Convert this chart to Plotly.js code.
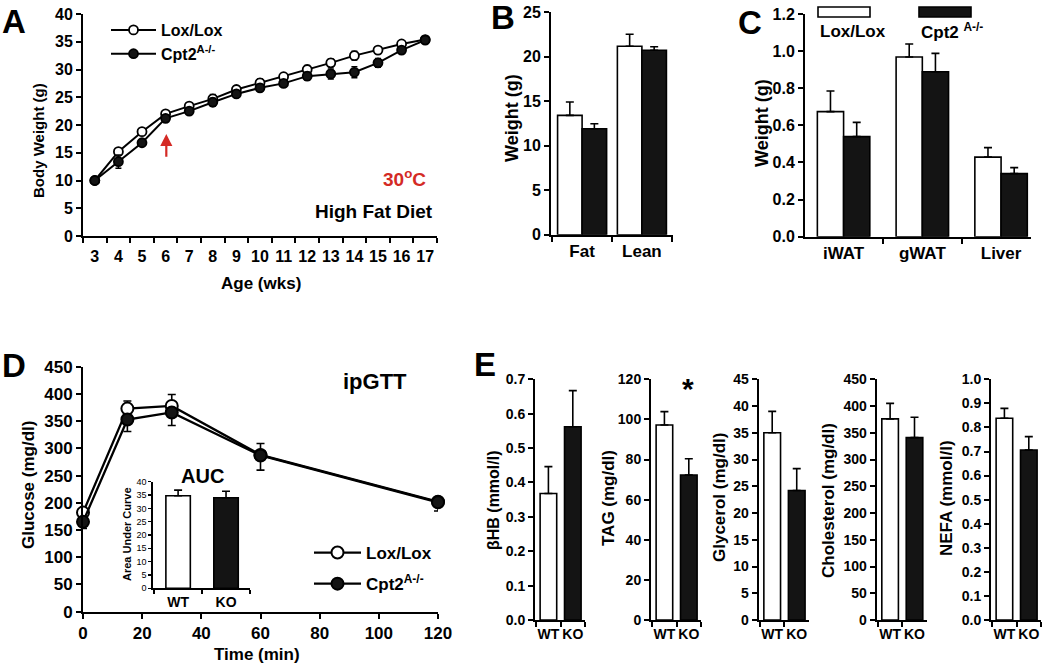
<!DOCTYPE html>
<html>
<head>
<meta charset="utf-8">
<script src="https://cdn.plot.ly/plotly-3.0.1.min.js"></script>
<style>html,body{margin:0;padding:0;background:#fff;}#chart{width:1050px;height:666px;}</style>
</head>
<body>
<div id="chart"></div>
<script>
// ---------- DATA ----------
// Panel A: body weight on high fat diet (30 C)
const ageWeeks = [3,4,5,6,7,8,9,10,11,12,13,14,15,16,17];
const loxWeight = [10.0,15.2,18.8,22.0,23.4,24.7,26.4,27.6,28.7,30.0,31.2,32.5,33.5,34.6,35.4];
const loxWeightErr = [0.3,0.5,0.5,0.4,0.5,0.8,0.6,0.7,0.6,0.7,0.7,0.8,0.6,0.5,0.5];
const koWeight = [10.0,13.4,16.8,21.2,22.5,24.1,25.6,26.7,27.5,28.8,29.2,29.5,31.2,33.5,35.3];
const koWeightErr = [0.3,1.2,0.6,0.5,0.5,0.7,0.6,0.6,0.6,0.7,0.9,1.0,0.8,0.5,0.4];

// Panel B: body composition
const bodyCompCats = ['Fat','Lean'];
const loxBodyComp = [13.4,21.15];
const loxBodyCompErr = [1.5,1.35];
const koBodyComp = [11.9,20.7];
const koBodyCompErr = [0.55,0.4];

// Panel C: tissue weights
const tissueCats = ['iWAT','gWAT','Liver'];
const loxTissue = [0.674,0.968,0.429];
const loxTissueErr = [0.111,0.07,0.051];
const koTissue = [0.539,0.889,0.34];
const koTissueErr = [0.077,0.099,0.032];

// Panel D: ipGTT
const gttTime = [0,15,30,60,120];
const loxGlucose = [182,373,378,288,202];
const loxGlucoseErr = [6,14,21,21,9];
const koGlucose = [165,353,366,287,201];
const koGlucoseErr = [12,22,24,27,16];
// Inset: AUC
const aucCats = ['WT','KO'];
const aucValues = [34.75,34.0];
const aucErr = [2.1,2.4];

// Panel E: serum metabolites (WT, KO)
const genotypeCats = ['WT','KO'];
const bhbValues = [0.368,0.562];
const bhbErr = [0.078,0.105];
const tagValues = [97.2,72.3];
const tagErr = [6.7,8.1];
const glycerolValues = [35.0,24.2];
const glycerolErr = [4.0,4.1];
const cholesterolValues = [376,341];
const cholesterolErr = [29,38];
const nefaValues = [0.838,0.706];
const nefaErr = [0.041,0.056];

// ---------- HELPERS ----------
const W = 1050, H = 666;
const px = x => x / W;
const py = y => 1 - y / H;
const F = 'Liberation Sans, Arial, Helvetica, sans-serif';
const BLACK = '#141414';
const RED = '#d42a25';
const font = (size, extra) => Object.assign({family: F, size: size, color: 'black', weight: 'bold'}, extra || {});

const axBase = (o) => Object.assign({
  showline: true, linecolor: 'black', linewidth: 2,
  ticks: 'outside', ticklen: 5, tickwidth: 2, tickcolor: 'black',
  showgrid: false, zeroline: false, fixedrange: true,
  tickfont: font(16)
}, o);

const errUp = (arr, w) => ({type: 'data', symmetric: false, array: arr, arrayminus: arr.map(() => 0), color: 'black', thickness: 1.6, width: w || 4});

// ---------- TRACES ----------
const traces = [];

// A
traces.push({
  type: 'scatter', mode: 'lines+markers', x: ageWeeks, y: loxWeight, name: 'Lox/Lox',
  xaxis: 'x', yaxis: 'y', legend: 'legend', cliponaxis: false,
  line: {color: 'black', width: 2},
  marker: {symbol: 'circle', size: 9, color: 'white', line: {color: 'black', width: 1.8}},
  error_y: {type: 'data', array: loxWeightErr, color: 'black', thickness: 1.5, width: 3}
});
traces.push({
  type: 'scatter', mode: 'lines+markers', x: ageWeeks, y: koWeight, name: 'Cpt2<sup>A-/-</sup>',
  xaxis: 'x', yaxis: 'y', legend: 'legend', cliponaxis: false,
  line: {color: 'black', width: 2},
  marker: {symbol: 'circle', size: 9, color: BLACK, line: {color: 'black', width: 1.8}},
  error_y: {type: 'data', array: koWeightErr, color: 'black', thickness: 1.5, width: 3}
});

// B
traces.push({type: 'bar', x: bodyCompCats, y: loxBodyComp, xaxis: 'x2', yaxis: 'y2', showlegend: false,
  width: 0.41, offset: -0.41, marker: {color: 'white', line: {color: 'black', width: 1.6}}, error_y: errUp(loxBodyCompErr)});
traces.push({type: 'bar', x: bodyCompCats, y: koBodyComp, xaxis: 'x2', yaxis: 'y2', showlegend: false,
  width: 0.41, offset: 0, marker: {color: BLACK, line: {color: 'black', width: 1.6}}, error_y: errUp(koBodyCompErr)});

// C
traces.push({type: 'bar', x: tissueCats, y: loxTissue, xaxis: 'x3', yaxis: 'y3', showlegend: false,
  width: 0.333, offset: -0.333, marker: {color: 'white', line: {color: 'black', width: 1.6}}, error_y: errUp(loxTissueErr)});
traces.push({type: 'bar', x: tissueCats, y: koTissue, xaxis: 'x3', yaxis: 'y3', showlegend: false,
  width: 0.333, offset: 0, marker: {color: BLACK, line: {color: 'black', width: 1.6}}, error_y: errUp(koTissueErr)});

// D
traces.push({
  type: 'scatter', mode: 'lines+markers', x: gttTime, y: loxGlucose, name: 'Lox/Lox',
  xaxis: 'x4', yaxis: 'y4', legend: 'legend2', legendgroup: 'g1', cliponaxis: false,
  line: {color: 'black', width: 2.3},
  marker: {symbol: 'circle', size: 12, color: 'white', line: {color: 'black', width: 2}},
  error_y: errUp(loxGlucoseErr, 4)
});
traces.push({
  type: 'scatter', mode: 'lines+markers', x: gttTime, y: koGlucose, name: 'Cpt2<sup>A-/-</sup>',
  xaxis: 'x4', yaxis: 'y4', legend: 'legend2', legendgroup: 'g2', cliponaxis: false,
  line: {color: 'black', width: 2.3},
  marker: {symbol: 'circle', size: 12, color: BLACK, line: {color: 'black', width: 2}},
  error_y: {type: 'data', symmetric: false, array: koGlucoseErr.map(() => 0), arrayminus: koGlucoseErr, color: 'black', thickness: 1.6, width: 4}
});
// Inset AUC
traces.push({type: 'bar', x: aucCats, y: aucValues, xaxis: 'x5', yaxis: 'y5', showlegend: false,
  width: 0.51, marker: {color: ['white', BLACK], line: {color: 'black', width: 1.6}}, error_y: errUp(aucErr, 4)});

// E
const eSets = [
  [bhbValues, bhbErr], [tagValues, tagErr], [glycerolValues, glycerolErr],
  [cholesterolValues, cholesterolErr], [nefaValues, nefaErr]
];
eSets.forEach((s, i) => {
  traces.push({type: 'bar', x: genotypeCats, y: s[0], xaxis: 'x' + (6 + i), yaxis: 'y' + (6 + i), showlegend: false,
    width: 0.68, marker: {color: ['white', BLACK], line: {color: 'black', width: 1.6}}, error_y: errUp(s[1], 4)});
});

// ---------- LAYOUT ----------
const layout = {
  width: W, height: H,
  margin: {l: 0, r: 0, t: 0, b: 0},
  paper_bgcolor: 'white', plot_bgcolor: 'rgba(0,0,0,0)',
  font: font(16),
  barmode: 'overlay',
  showlegend: true,
  legend: {x: px(106), y: py(13), xanchor: 'left', yanchor: 'top', bgcolor: 'rgba(0,0,0,0)',
    font: font(16), traceorder: 'normal', itemwidth: 45, tracegroupgap: 0},
  legend2: {x: px(309), y: py(535), xanchor: 'left', yanchor: 'top', bgcolor: 'rgba(0,0,0,0)',
    font: font(17), traceorder: 'grouped', itemwidth: 47, tracegroupgap: 6},

  // A
  xaxis: axBase({domain: [px(83), px(437)], anchor: 'y', range: [2.5, 17.5], tickvals: ageWeeks, tickangle: 0,
    tickcolor: 'rgba(0,0,0,0)',
    minor: {ticks: 'outside', tick0: 2.5, dtick: 1, ticklen: 5, tickwidth: 2, tickcolor: 'black'}}),
  yaxis: axBase({domain: [py(236), py(14)], anchor: 'x', range: [0, 40], dtick: 5}),

  // B
  xaxis2: axBase({domain: [px(551), px(673)], anchor: 'y2', type: 'category', range: [-0.52, 1.52], tickson: 'boundaries', tickangle: 0, tickfont: font(17)}),
  yaxis2: axBase({domain: [py(234.7), py(12)], anchor: 'x2', range: [0, 25], dtick: 5}),

  // C
  xaxis3: axBase({domain: [px(805), px(1031)], anchor: 'y3', type: 'category', range: [-0.49, 2.38], tickson: 'boundaries', tickangle: 0, tickfont: font(17)}),
  yaxis3: axBase({domain: [py(236.7), py(14)], anchor: 'x3', range: [0, 1.2], dtick: 0.2, tickformat: '.1f'}),

  // D
  xaxis4: axBase({domain: [px(83), px(438)], anchor: 'y4', range: [0, 120], dtick: 20, tickangle: 0, tickfont: font(17)}),
  yaxis4: axBase({domain: [py(611.7), py(366.7)], anchor: 'x4', range: [0, 450], dtick: 50, tickfont: font(17)}),
  // inset
  xaxis5: axBase({domain: [px(152.7), px(250)], anchor: 'y5', type: 'category', range: [-0.53, 1.5], tickson: 'boundaries', tickangle: 0,
    linewidth: 1.5, tickwidth: 1.5, ticklen: 4, tickfont: font(14)}),
  yaxis5: axBase({domain: [py(588.3), py(481.7)], anchor: 'x5', range: [0, 40], dtick: 5,
    linewidth: 1.5, tickwidth: 1.2, ticklen: 3, tickfont: font(9, {weight: 'normal'})}),

  annotations: [], shapes: []
};

const eDomains = [[535, 585], [651, 701], [758.7, 809], [876.7, 926.7], [991, 1041]];
const eY = [
  {range: [0, 0.7], dtick: 0.1, tickformat: '.1f'},
  {range: [0, 120], dtick: 20},
  {range: [0, 45], dtick: 5},
  {range: [0, 450], dtick: 50},
  {range: [0, 1.0], dtick: 0.1, tickformat: '.1f'}
];
eDomains.forEach((d, i) => {
  const n = 6 + i;
  layout['xaxis' + n] = axBase({domain: [px(d[0]), px(d[1])], anchor: 'y' + n, type: 'category', range: [-0.55, 1.5],
    tickson: 'boundaries', tickangle: 0, tickfont: font(14)});
  layout['yaxis' + n] = axBase(Object.assign({domain: [py(620), py(379.3)], anchor: 'x' + n, tickfont: font(14)}, eY[i]));
});

// ---------- ANNOTATIONS ----------
const ann = (text, x, y, o) => Object.assign({text: text, xref: 'paper', yref: 'paper', x: px(x), y: py(y),
  showarrow: false, xanchor: 'center', yanchor: 'middle', font: font(16)}, o || {});
const vt = (text, x, y, size) => ann(text, x, y, {textangle: -90, font: font(size)});

layout.annotations.push(
  // panel letters
  ann('A', 0, 21, {xanchor: 'left', font: font(33)}),
  ann('B', 489, 18, {xanchor: 'left', font: font(33)}),
  ann('C', 736, 22, {xanchor: 'left', font: font(33)}),
  ann('D', 0, 365, {xanchor: 'left', font: font(33)}),
  ann('E', 472, 364, {xanchor: 'left', font: font(33)}),
  // axis titles
  vt('Body Weight (g)', 38, 141, 15),
  ann('Age (wks)', 261, 284, {font: font(17)}),
  vt('Weight (g)', 512, 118, 18),
  vt('Weight (g)', 762, 123, 18),
  vt('Glucose (mg/dl)', 28, 485, 17),
  ann('Time (min)', 257, 654, {font: font(17)}),
  vt('Area Under Curve', 127, 534, 11),
  vt('\u03b2HB (mmol/l)', 494, 500, 16),
  vt('TAG (mg/dl)', 608, 498, 17),
  vt('Glycerol (mg/dl)', 719, 498, 17),
  vt('Cholesterol (mg/dl)', 828, 501, 17),
  vt('NEFA (mmol/l)', 946, 498, 17),
  // other text
  ann('30<sup>o</sup>C', 428, 178, {xanchor: 'right', font: font(19, {color: RED})}),
  ann('High Fat Diet', 435, 211, {xanchor: 'right', font: font(19)}),
  ann('ipGTT', 375, 382, {font: font(22)}),
  ann('AUC', 202, 476, {font: font(20)}),
  ann('*', 688, 388, {font: font(30)}),
  ann('Lox/Lox', 818, 31, {xanchor: 'left', font: font(17)}),
  ann('Cpt2 <sup>A-/-</sup>', 919, 31, {xanchor: 'left', font: font(17)}),
  // red arrow at week 6
  {xref: 'x', yref: 'y', axref: 'x', ayref: 'y', x: 6.03, y: 18.4, ax: 6.03, ay: 14.0, text: '',
   showarrow: true, arrowhead: 2, arrowsize: 1.1, arrowwidth: 2.2, arrowcolor: RED}
);

// C legend boxes
layout.shapes.push(
  {type: 'rect', xref: 'paper', yref: 'paper', x0: px(818), x1: px(870), y0: py(17), y1: py(7),
   fillcolor: 'white', line: {color: 'black', width: 1.6}},
  {type: 'rect', xref: 'paper', yref: 'paper', x0: px(919), x1: px(971), y0: py(17), y1: py(7),
   fillcolor: BLACK, line: {color: 'black', width: 1.6}}
);

Plotly.newPlot('chart', traces, layout, {staticPlot: true, displayModeBar: false});
</script>
</body>
</html>
